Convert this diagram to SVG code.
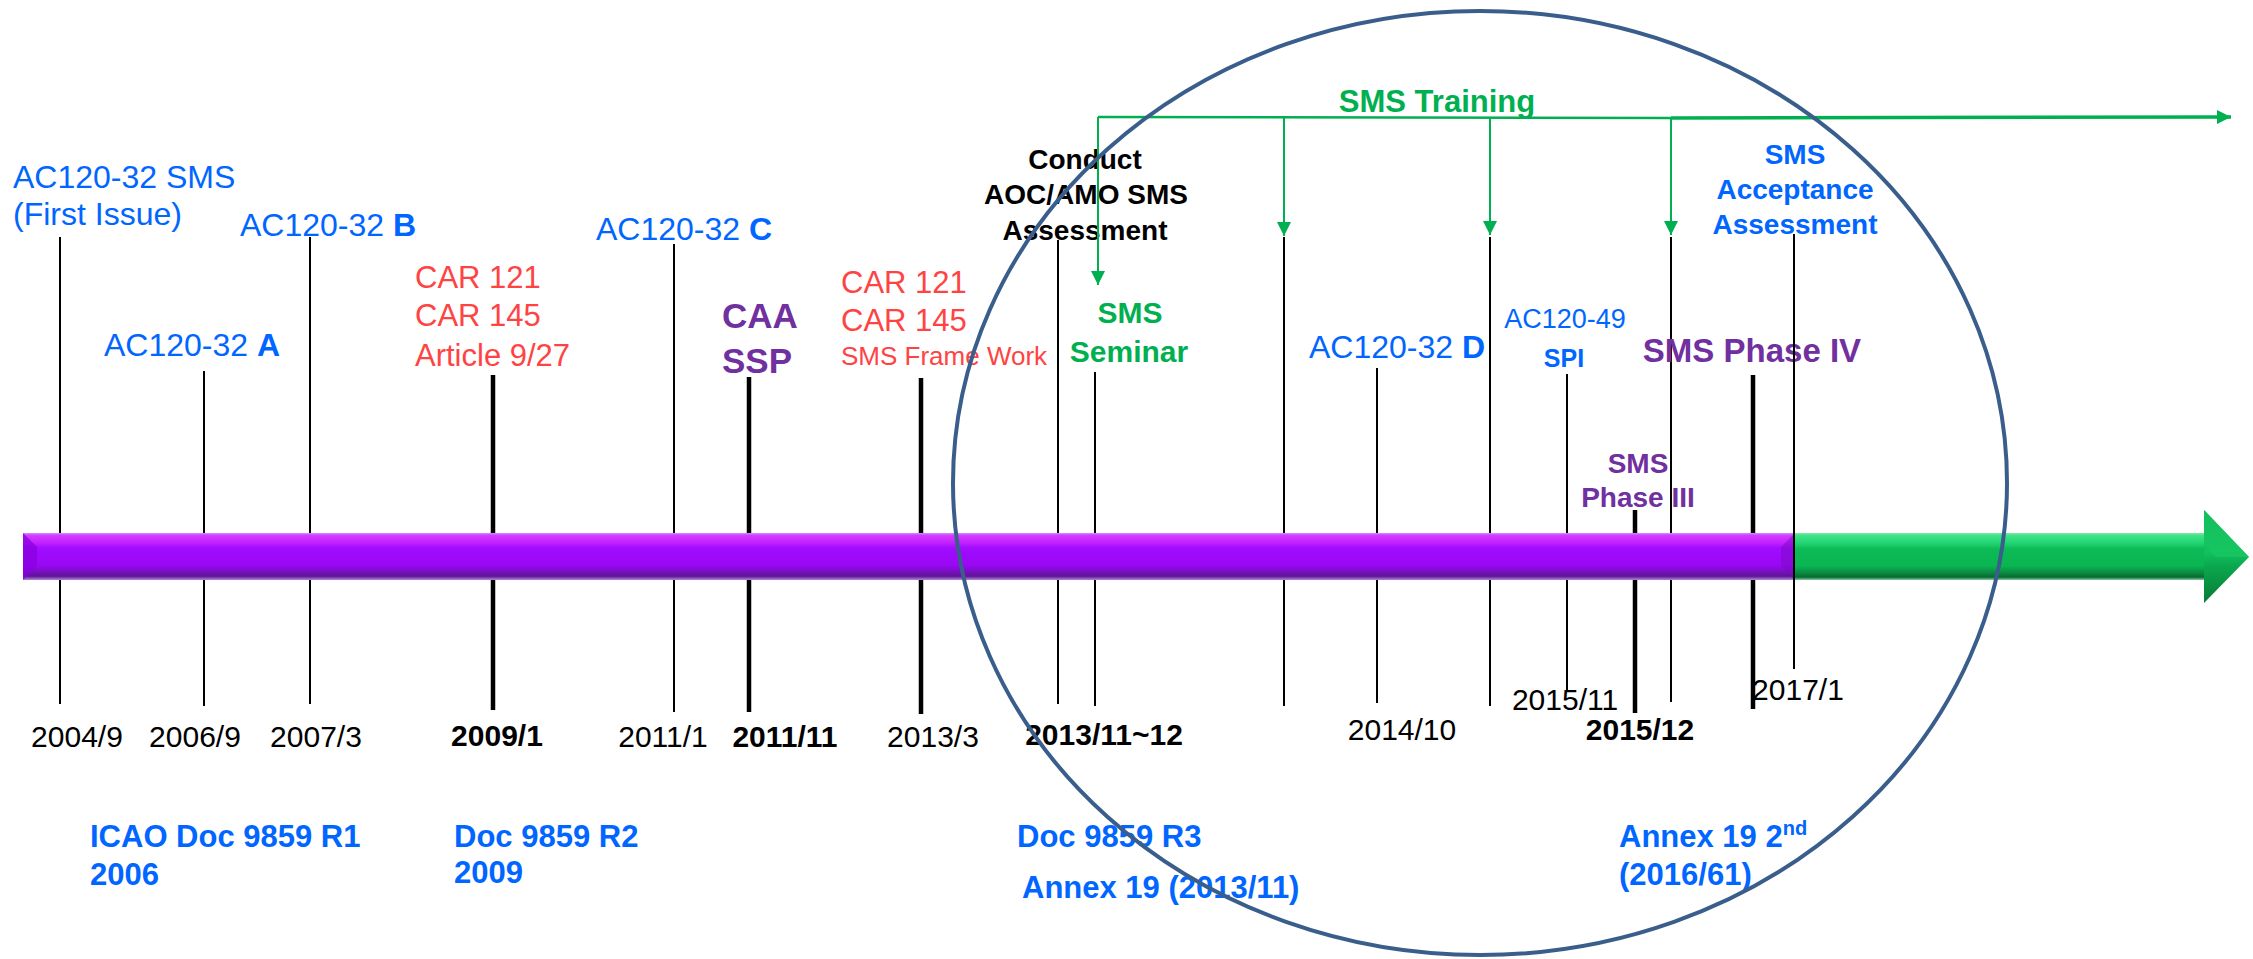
<svg xmlns="http://www.w3.org/2000/svg" width="2253" height="959" viewBox="0 0 2253 959">
<defs>
<style>
text{font-family:"Liberation Sans",Arial,sans-serif}
.date{font-size:30px;fill:#000;text-anchor:middle}
.b{font-weight:bold}
.mid{text-anchor:middle}
.blue{fill:#0066FF}
.red{fill:#FF4343}
.pur{fill:#7030A0}
.grn{fill:#00B050}
.blk{fill:#000}
.thin{stroke:#000;stroke-width:2}
.thick{stroke:#000;stroke-width:4.5}
.tr{stroke:#00B050;fill:none}
</style>
<linearGradient id="pg" x1="0" y1="0" x2="0" y2="1">
<stop offset="0" stop-color="#C990FF"/>
<stop offset="0.05" stop-color="#D43DFF"/>
<stop offset="0.2" stop-color="#C322FF"/>
<stop offset="0.32" stop-color="#A00CFF"/>
<stop offset="0.68" stop-color="#9A08F5"/>
<stop offset="0.8" stop-color="#7E0DCC"/>
<stop offset="0.92" stop-color="#5E1592"/>
<stop offset="1" stop-color="#B486E0"/>
</linearGradient>
<linearGradient id="gg" x1="0" y1="0" x2="0" y2="1">
<stop offset="0" stop-color="#8CE0B0"/>
<stop offset="0.05" stop-color="#3DE585"/>
<stop offset="0.22" stop-color="#22D372"/>
<stop offset="0.34" stop-color="#0CBB55"/>
<stop offset="0.7" stop-color="#0AB552"/>
<stop offset="0.84" stop-color="#0A8C42"/>
<stop offset="0.94" stop-color="#096A31"/>
<stop offset="1" stop-color="#86CFA5"/>
</linearGradient>
<linearGradient id="gh" x1="0" y1="0" x2="0" y2="1">
<stop offset="0" stop-color="#0C9A48"/>
<stop offset="0.45" stop-color="#12C25E"/>
<stop offset="0.6" stop-color="#0BA84D"/>
<stop offset="1" stop-color="#077A37"/>
</linearGradient>
<marker id="ga" viewBox="0 0 10 10" refX="10" refY="5" markerWidth="15" markerHeight="14" markerUnits="userSpaceOnUse" orient="auto">
<path d="M0,0 L10,5 L0,10 z" fill="#00B050"/>
</marker>
</defs>
<rect width="2253" height="959" fill="#fff"/>

<!-- event lines and labels -->
<g id="n-2004-9">
<line class="thin" x1="60" y1="237" x2="60" y2="704"/>
<text class="blue" x="13" y="188" font-size="32">AC120-32 SMS</text>
<text class="blue" x="13" y="225" font-size="32">(First Issue)</text>
<text class="date" x="77" y="747">2004/9</text>
</g>
<g id="n-2006-9">
<line class="thin" x1="204" y1="371" x2="204" y2="706"/>
<text class="blue" x="104" y="356" font-size="32">AC120-32 <tspan class="b">A</tspan></text>
<text class="date" x="195" y="747">2006/9</text>
</g>
<g id="n-2007-3">
<line class="thin" x1="310" y1="237" x2="310" y2="704"/>
<text class="blue" x="240" y="236" font-size="32">AC120-32 <tspan class="b">B</tspan></text>
<text class="date" x="316" y="747">2007/3</text>
</g>
<g id="n-2009-1">
<line class="thick" x1="493" y1="375" x2="493" y2="710"/>
<text class="red" x="415" y="288" font-size="31">CAR 121</text>
<text class="red" x="415" y="326" font-size="31">CAR 145</text>
<text class="red" x="415" y="366" font-size="31">Article 9/27</text>
<text class="date b" x="497" y="746">2009/1</text>
</g>
<g id="n-2011-1">
<line class="thin" x1="674" y1="244" x2="674" y2="712"/>
<text class="blue" x="596" y="240" font-size="32">AC120-32 <tspan class="b">C</tspan></text>
<text class="date" x="663" y="747">2011/1</text>
</g>
<g id="n-2011-11">
<line class="thick" x1="749" y1="377" x2="749" y2="712"/>
<text class="pur b" x="722" y="328" font-size="35">CAA</text>
<text class="pur b" x="722" y="373" font-size="35">SSP</text>
<text class="date b" x="785" y="747">2011/11</text>
</g>
<g id="n-2013-3">
<line class="thick" x1="921" y1="378" x2="921" y2="714"/>
<text class="red" x="841" y="293" font-size="31">CAR 121</text>
<text class="red" x="841" y="331" font-size="31">CAR 145</text>
<text class="red" x="841" y="365" font-size="26">SMS Frame Work</text>
<text class="date" x="933" y="747">2013/3</text>
</g>
<g id="n-2013-11">
<line class="thin" x1="1058" y1="240" x2="1058" y2="704"/>
<text class="blk b mid" x="1085" y="169" font-size="28">Conduct</text>
<text class="blk b mid" x="1086" y="204" font-size="28">AOC/AMO SMS</text>
<text class="blk b mid" x="1085" y="240" font-size="28">Assessment</text>
<text class="date b" x="1104" y="745">2013/11~12</text>
</g>
<g id="n-seminar">
<line class="thin" x1="1095" y1="372" x2="1095" y2="706"/>
<text class="grn b mid" x="1130" y="323" font-size="30">SMS</text>
<text class="grn b mid" x="1129" y="362" font-size="30">Seminar</text>
</g>
<g id="n-training-2">
<line class="thin" x1="1284" y1="237" x2="1284" y2="706"/>
</g>
<g id="n-2014-10">
<line class="thin" x1="1377" y1="368" x2="1377" y2="703"/>
<text class="blue" x="1309" y="358" font-size="32">AC120-32 <tspan class="b">D</tspan></text>
<text class="date" x="1402" y="740">2014/10</text>
</g>
<g id="n-training-3">
<line class="thin" x1="1490" y1="237" x2="1490" y2="706"/>
</g>
<g id="n-2015-11">
<line class="thin" x1="1567" y1="374" x2="1567" y2="690"/>
<text class="blue mid" x="1565" y="328" font-size="27">AC120-49</text>
<text class="blue b mid" x="1564" y="367" font-size="25">SPI</text>
<text class="date" x="1565" y="710">2015/11</text>
</g>
<g id="n-phase-3">
<line class="thick" x1="1635" y1="510" x2="1635" y2="713"/>
<text class="pur b mid" x="1638" y="473" font-size="28">SMS</text>
<text class="pur b mid" x="1638" y="507" font-size="28">Phase III</text>
<text class="date b" x="1640" y="740">2015/12</text>
</g>
<g id="n-training-4">
<line class="thin" x1="1671" y1="237" x2="1671" y2="702"/>
</g>
<g id="n-phase-4">
<line class="thick" x1="1753" y1="375" x2="1753" y2="709"/>
<text class="pur b mid" x="1752" y="362" font-size="33">SMS Phase IV</text>
</g>
<g id="n-2017-1">
<line class="thin" x1="1794" y1="234" x2="1794" y2="669"/>
<text class="blue b mid" x="1795" y="164" font-size="28">SMS</text>
<text class="blue b mid" x="1795" y="199" font-size="28">Acceptance</text>
<text class="blue b mid" x="1795" y="234" font-size="28">Assessment</text>
<text class="date" x="1798" y="700">2017/1</text>
</g>

<!-- timeline bar -->
<g id="timeline-bar">
<rect x="23" y="533" width="1772" height="47" fill="url(#pg)"/>
<polygon points="23,533 37,547 37,566 23,580" fill="#8A00E0" opacity="0.75"/>
<polygon points="1795,533 1781,547 1781,566 1795,580" fill="#7A0AC0" opacity="0.5"/>
<rect x="1795" y="533" width="410" height="47" fill="url(#gg)"/>
<polygon points="2204,510 2249,557 2204,603" fill="url(#gh)"/>
<polygon points="2204,510 2249,557 2216,557 2204,545" fill="#17C762" opacity="0.8"/>
<line x1="1794" y1="533" x2="1794" y2="580" stroke="#000" stroke-width="2"/>
</g>

<!-- SMS Training connectors -->
<g id="connectors">
<line class="tr" x1="1098" y1="117" x2="1671" y2="118" stroke-width="2.5" stroke="#3DBF72"/>
<line class="tr" x1="1671" y1="118" x2="2231" y2="117" stroke-width="3.5" marker-end="url(#ga)"/>
<line class="tr" x1="1098" y1="117" x2="1098" y2="285" stroke-width="2" marker-end="url(#ga)"/>
<line class="tr" x1="1284" y1="117" x2="1284" y2="236" stroke-width="2" marker-end="url(#ga)"/>
<line class="tr" x1="1490" y1="118" x2="1490" y2="235" stroke-width="2" marker-end="url(#ga)"/>
<line class="tr" x1="1671" y1="118" x2="1671" y2="235" stroke-width="2" marker-end="url(#ga)"/>
</g>
<g id="sms-training-label">
<text class="grn b mid" x="1437" y="112" font-size="31">SMS Training</text>
</g>

<!-- ICAO documents -->
<g id="icao-r1">
<text class="blue b" x="90" y="847" font-size="31">ICAO Doc 9859 R1</text>
<text class="blue b" x="90" y="885" font-size="31">2006</text>
</g>
<g id="icao-r2">
<text class="blue b" x="454" y="847" font-size="31">Doc 9859 R2</text>
<text class="blue b" x="454" y="883" font-size="31">2009</text>
</g>
<g id="icao-r3">
<text class="blue b" x="1017" y="847" font-size="31">Doc 9859 R3</text>
<text class="blue b" x="1022" y="898" font-size="31">Annex 19 (2013/11)</text>
</g>
<g id="annex19-2nd">
<text class="blue b" x="1619" y="847" font-size="31">Annex 19 2<tspan font-size="20" dy="-12">nd</tspan></text>
<text class="blue b" x="1619" y="885" font-size="31">(2016/61)</text>
</g>

<!-- focus ellipse -->
<g id="focus-ellipse">
<ellipse cx="1480" cy="483" rx="527" ry="472" fill="none" stroke="#3A5E8C" stroke-width="4"/>
</g>
</svg>
